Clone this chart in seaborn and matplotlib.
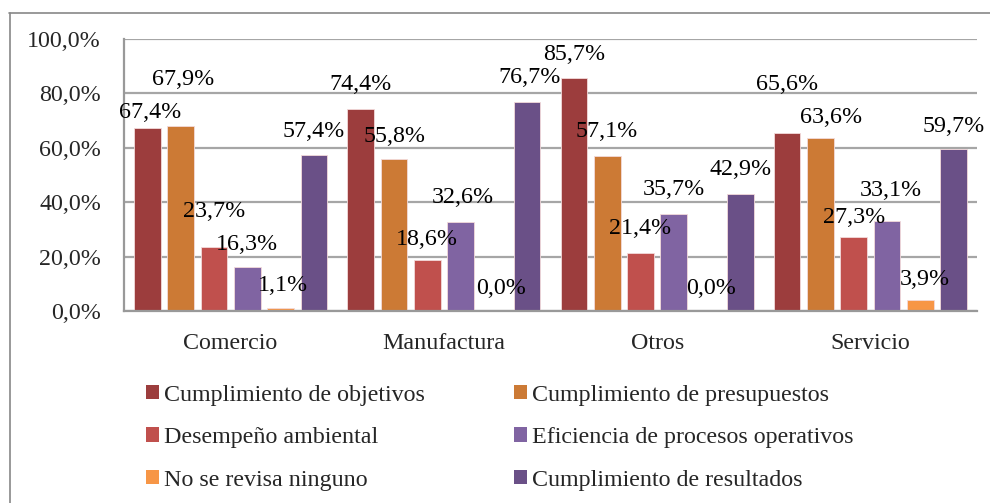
import matplotlib
matplotlib.use("Agg")
import matplotlib.pyplot as plt
from matplotlib.lines import Line2D
from matplotlib.patches import Patch
from matplotlib.ticker import FuncFormatter
import seaborn as sns
import pandas as pd

# ---- data ----
categories = ["Comercio", "Manufactura", "Otros", "Servicio"]
series = ["Cumplimiento de objetivos", "Cumplimiento de presupuestos",
          "Desempeño ambiental", "Eficiencia de procesos operativos",
          "No se revisa ninguno", "Cumplimiento de resultados"]
objetivos = [67.4, 74.4, 85.7, 65.6]
presupuestos = [67.9, 55.8, 57.1, 63.6]
ambiental = [23.7, 18.6, 21.4, 27.3]
eficiencia = [16.3, 32.6, 35.7, 33.1]
ninguno = [1.1, 0.0, 0.0, 3.9]
resultados = [57.4, 76.7, 42.9, 59.7]
yticks = [0, 20, 40, 60, 80, 100]

# ---- styles ----
colors = ["#9C3D3D", "#CC7A35", "#C0504D", "#8064A2", "#F79646", "#6A5087"]
# label offsets (dx, dy) in pixels from bar top, per series x category
label_offsets = [
    [(3, 15), (0, 24), (0, 23), (0, 48)],
    [(2, 47), (1, 23), (0, 24), (11, 21)],
    [(0, 35), (0, 21), (0, 24), (0, 19)],
    [(0, 22), (2, 25), (0, 24), (4, 30)],
    [(2, 23), (7, 23), (4, 23), (4, 21)],
    [(0, 23), (2, 25), (0, 25), (0, 22)],
]

values = [objetivos, presupuestos, ambiental, eficiencia, ninguno, resultados]
rows = []
for s, vals in zip(series, values):
    for c, v in zip(categories, vals):
        rows.append({"Sector": c, "Serie": s, "Valor": v})
df = pd.DataFrame(rows)

sns.set_style("white")
plt.rcParams["font.family"] = ["Liberation Serif", "DejaVu Serif"]
FS = 17.3

W, H = 990, 503
fig = plt.figure(figsize=(W / 100, H / 100), dpi=100)
ax = fig.add_axes([124 / W, 1 - 311 / H, (977 - 124) / W, (311 - 39) / H])

sns.barplot(data=df, x="Sector", y="Valor", hue="Serie", order=categories,
            hue_order=series, palette=colors, width=0.937, gap=0.198,
            saturation=1, ax=ax, legend=False, errorbar=None,
            edgecolor="#f3dada", linewidth=0.6)

ax.set_ylim(0, 100)
ax.set_xlim(-0.5, len(categories) - 0.5)
ax.set_yticks(yticks)
ax.yaxis.set_major_formatter(FuncFormatter(lambda v, p: f"{v:.1f}%".replace(".", ",")))
ax.set_xlabel("")
ax.set_ylabel("")
ax.tick_params(axis="y", length=0, pad=16.5, labelsize=FS)
ax.tick_params(axis="x", length=0, pad=16, labelsize=FS)
ax.yaxis.grid(True, color="#a6a6a6", lw=1.6)
ax.set_axisbelow(True)
for sp in ["top", "right"]:
    ax.spines[sp].set_visible(False)
for sp in ["left", "bottom"]:
    ax.spines[sp].set_color("#999999")
    ax.spines[sp].set_linewidth(1.6)

for si, cont in enumerate(ax.containers):
    for ci, bar in enumerate(cont):
        v = values[si][ci]
        dx, dy = label_offsets[si][ci]
        ax.annotate(f"{v:.1f}%".replace(".", ","),
                    xy=(bar.get_x() + bar.get_width() / 2, bar.get_height()),
                    xytext=(dx, dy), textcoords="offset pixels",
                    ha="center", va="center", fontsize=FS, color="black",
                    annotation_clip=False)

# legend filled row by row (2 columns)
order = [0, 2, 4, 1, 3, 5]
handles = [Patch(facecolor=colors[i], edgecolor="none") for i in order]
labels = [series[i] for i in order]
fig.legend(handles, labels, loc="upper left",
           bbox_to_anchor=(146 / W, 1 - 384.5 / H), bbox_transform=fig.transFigure,
           ncol=2, frameon=False, fontsize=FS, handlelength=0.55, handleheight=0.55,
           handletextpad=0.2, columnspacing=3.7, labelspacing=0.9,
           borderpad=0, borderaxespad=0)

# outer frame (partially visible)
fig.add_artist(Line2D([9.5 / W, 9.5 / W], [0, 1 - 12.5 / H], transform=fig.transFigure,
                      color="#888888", lw=1.2))
fig.add_artist(Line2D([9 / W, 1], [1 - 12.5 / H, 1 - 12.5 / H], transform=fig.transFigure,
                      color="#888888", lw=1.2))

fig.savefig("out.png", dpi=100)
